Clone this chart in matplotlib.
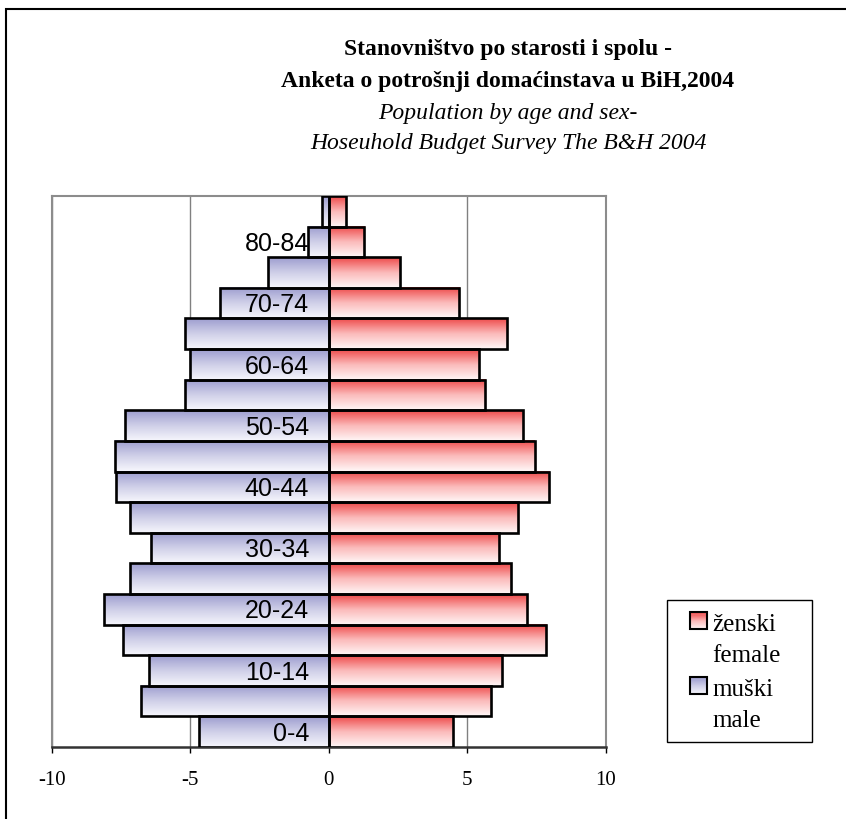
import numpy as np
import matplotlib
matplotlib.use("Agg")
import matplotlib.pyplot as plt
from matplotlib.patches import Rectangle, Patch
from matplotlib.colors import LinearSegmentedColormap
from matplotlib.legend_handler import HandlerBase

# ---------------- data ----------------
age_groups = ['0-4', '5-9', '10-14', '15-19', '20-24', '25-29', '30-34', '35-39',
              '40-44', '45-49', '50-54', '55-59', '60-64', '65-69', '70-74',
              '75-79', '80-84', '85+']
male = [-4.69, -6.78, -6.50, -7.42, -8.13, -7.17, -6.42, -7.17, -7.70, -7.71,
        -7.37, -5.19, -5.01, -5.21, -3.92, -2.18, -0.74, -0.23]
female = [4.47, 5.87, 6.26, 7.84, 7.16, 6.57, 6.15, 6.85, 7.96, 7.43,
          7.03, 5.65, 5.43, 6.44, 4.70, 2.58, 1.28, 0.61]
x_ticks = [-10, -5, 0, 5, 10]
title_lines = ['Stanovništvo po starosti i spolu -',
               'Anketa o potrošnji domaćinstava u BiH,2004',
               'Population by age and sex-',
               'Hoseuhold Budget Survey The B&H 2004']
legend_labels = ['ženski\nfemale', 'muški\nmale']

SERIF = 'Liberation Serif'
SANS = 'Liberation Sans'

fem_cmap = LinearSegmentedColormap.from_list('fem', ['#FFF6F6', '#FBBABA', '#EE4A4A'])
male_cmap = LinearSegmentedColormap.from_list('male', ['#F6F6FC', '#CFCFE8', '#9D9DCF'])

fig = plt.figure(figsize=(8.46, 8.19), dpi=100)
W, H = 846, 819
ax = fig.add_axes([52 / W, 1 - 747 / H, (605.7 - 52) / W, (747 - 196) / H])

y = np.arange(len(age_groups))
grad = np.linspace(0, 1, 64).reshape(-1, 1)

for vals, cmap in ((male, male_cmap), (female, fem_cmap)):
    bars = ax.barh(y, vals, height=1.0, facecolor='none', edgecolor='black',
                   linewidth=1.9, zorder=4)
    for r in bars:
        x0, w = r.get_x(), r.get_width()
        y0, h = r.get_y(), r.get_height()
        ax.imshow(grad, extent=[min(x0, x0 + w), max(x0, x0 + w), y0, y0 + h],
                  origin='lower', cmap=cmap, aspect='auto', zorder=3,
                  interpolation='bilinear')

ax.set_xlim(-10, 10)
ax.set_ylim(-0.5, len(age_groups) - 0.5)
ax.set_xticks(x_ticks)
ax.set_xticklabels([str(t) for t in x_ticks], fontfamily=SERIF, fontsize=15)
ax.tick_params(axis='x', direction='out', length=4, width=1, color='black', pad=13)
ax.set_yticks([])

ax.set_axisbelow(True)
ax.xaxis.grid(True, color='#808080', linewidth=1)
for s in ('left', 'top', 'right'):
    ax.spines[s].set_color('#8c8c8c')
    ax.spines[s].set_linewidth(1.5)
ax.spines['bottom'].set_color('#333333')
ax.spines['bottom'].set_linewidth(1.8)

for i in range(0, len(age_groups), 2):
    ax.text(-0.72, y[i] - 0.30, age_groups[i], ha='right', va='baseline',
            fontsize=18, fontfamily=SANS, zorder=6)

# titles
tx = 508 / W
fig.text(tx, 1 - 50 / H, title_lines[0], ha='center', va='center',
         fontfamily=SERIF, fontweight='bold', fontsize=17)
fig.text(tx, 1 - 82 / H, title_lines[1], ha='center', va='center',
         fontfamily=SERIF, fontweight='bold', fontsize=17)
fig.text(tx, 1 - 114 / H, title_lines[2], ha='center', va='center',
         fontfamily=SERIF, fontstyle='italic', fontsize=17)
fig.text(tx, 1 - 143 / H, title_lines[3], ha='center', va='center',
         fontfamily=SERIF, fontstyle='italic', fontsize=17)


class GradHandler(HandlerBase):
    def __init__(self, cmap, shift=0.78, sq=0.68):
        super().__init__()
        self.cmap = cmap
        self.shift = shift
        self.sq = sq

    def create_artists(self, legend, orig_handle, xdescent, ydescent, width,
                       height, fontsize, trans):
        n = 16
        s = self.sq * fontsize
        x0 = -xdescent + width - s
        y0 = -ydescent + self.shift * fontsize
        arts = []
        for k in range(n):
            arts.append(Rectangle((x0, y0 + k * s / n), s, s / n,
                                  facecolor=self.cmap((k + 0.5) / n),
                                  edgecolor='none', transform=trans))
        arts.append(Rectangle((x0, y0), s, s, facecolor='none',
                              edgecolor='black', linewidth=1.5, transform=trans))
        return arts


h1, h2 = Patch(), Patch()
leg = fig.legend([h1, h2], legend_labels,
                 handler_map={h1: GradHandler(fem_cmap), h2: GradHandler(male_cmap)},
                 loc='upper left', bbox_to_anchor=(667 / W, 1 - 603 / H),
                 bbox_transform=fig.transFigure, borderaxespad=0,
                 prop={'family': SERIF, 'size': 18}, frameon=False,
                 handlelength=1.15, handleheight=0.68, handletextpad=0.2,
                 labelspacing=0.5, borderpad=0.45)
for t in leg.get_texts():
    t.set_linespacing(1.5)

# legend box
fig.add_artist(Rectangle((667 / W, 1 - 742 / H), (812 - 667) / W, (742 - 600) / H,
                         transform=fig.transFigure, fill=False, edgecolor='black',
                         linewidth=1.0, zorder=1))

# outer chart border
fig.add_artist(Rectangle((5.5 / W, -0.1), 1.2, 1.1 - 9 / H, transform=fig.transFigure,
                         fill=False, edgecolor='black', linewidth=1.5))

fig.savefig('out.png', dpi=100)
